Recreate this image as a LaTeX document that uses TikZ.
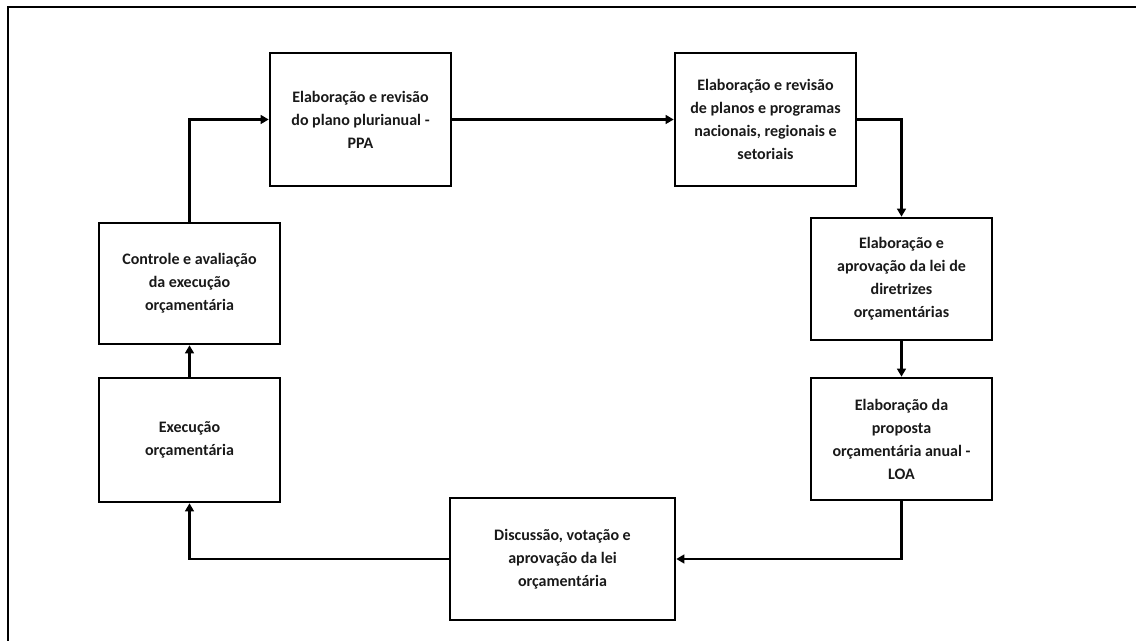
\documentclass[tikz,border=0pt]{standalone}
\usepackage{fontspec}
\setmainfont{Carlito}
\usetikzlibrary{arrows.meta}
\begin{document}
\begin{tikzpicture}[x=0.75pt,y=-0.75pt,
  stepbox/.style={draw, line width=1.9pt, rectangle, align=center, inner sep=2pt,
    font=\bfseries\fontsize{12}{17.25}\selectfont, text=black!90},
  arr/.style={line width=1.8pt, -{Triangle[length=6pt,width=6.5pt]}}]
\useasboundingbox (0,0) rectangle (1136,641);
\draw[line width=1.8pt] (1136,7) -- (8,7) -- (8,641);
\node[stepbox, minimum width=135.75pt, minimum height=99.75pt] (ppa) at (360.5,119.5)
  {Elaboração e revisão\\do plano plurianual -\\PPA};
\node[stepbox, minimum width=135.75pt, minimum height=99.75pt] (plan) at (765.5,119.5)
  {Elaboração e revisão\\de planos e programas\\nacionais, regionais e\\setoriais};
\node[stepbox, minimum width=135.75pt, minimum height=91.5pt] (ldo) at (901.5,279)
  {Elaboração e\\aprovação da lei de\\diretrizes\\orçamentárias};
\node[stepbox, minimum width=135.75pt, minimum height=91.5pt] (loa) at (901.5,439)
  {Elaboração da\\proposta\\orçamentária anual -\\LOA};
\node[stepbox, minimum width=168.75pt, minimum height=91.5pt] (disc) at (562.5,559)
  {Discussão, votação e\\aprovação da lei\\orçamentária};
\node[stepbox, minimum width=135.75pt, minimum height=93pt] (exec) at (189.5,440)
  {Execução\\orçamentária};
\node[stepbox, minimum width=135.75pt, minimum height=90.75pt] (ctrl) at (189.5,283.5)
  {Controle e avaliação\\da execução\\orçamentária};
\draw[arr] (ctrl.north) |- (ppa.west);
\draw[arr] (ppa.east) -- (plan.west);
\draw[arr] (plan.east) -| (ldo.north);
\draw[arr] (ldo.south) -- (loa.north);
\draw[arr] (loa.south) |- (disc.east);
\draw[arr] (disc.west) -| (exec.south);
\draw[arr] (exec.north) -- (ctrl.south);
\end{tikzpicture}
\end{document}
